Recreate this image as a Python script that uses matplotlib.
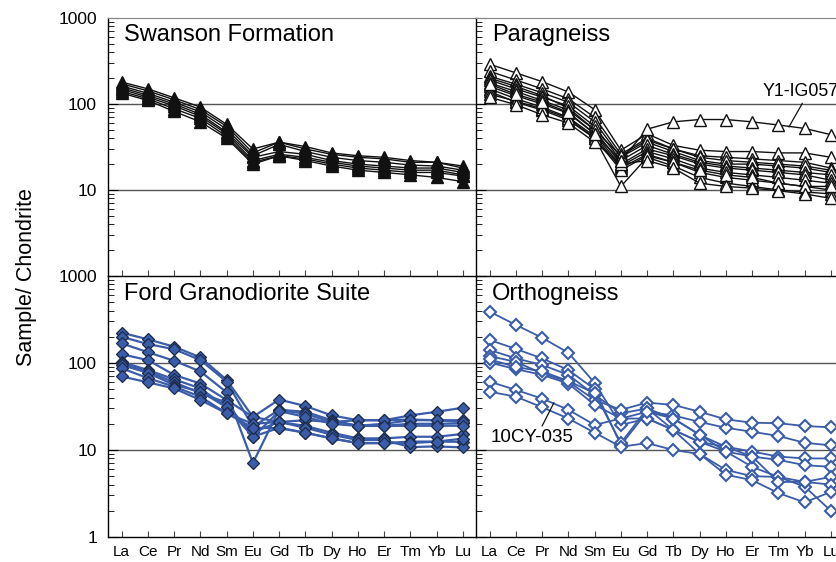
import matplotlib
matplotlib.use("Agg")
from matplotlib import pyplot as plt
from matplotlib.ticker import LogLocator, NullFormatter, FixedLocator, FixedFormatter

plt.rcParams['font.family'] = ['Liberation Sans', 'DejaVu Sans']

elements = ['La', 'Ce', 'Pr', 'Nd', 'Sm', 'Eu', 'Gd', 'Tb', 'Dy', 'Ho', 'Er', 'Tm', 'Yb', 'Lu']

# Swanson Formation (sample/chondrite)
swanson = [
    [180, 150, 118, 92, 58, 30, 36, 32, 27, 25, 24, 22, 21, 19],
    [172, 142, 112, 86, 55, 27, 36, 30, 26, 24, 23, 21, 21, 18],
    [162, 133, 105, 81, 51, 25, 34, 28, 24, 22, 21, 19.5, 19, 17],
    [155, 126, 100, 76, 47, 24, 28, 26, 22, 20, 19, 18, 18, 16],
    [148, 120, 95, 72, 45, 22, 26, 24, 21, 19, 18, 17, 17, 15],
    [140, 115, 88, 68, 42, 21, 25, 23, 20, 18, 17, 16, 16, 14.5],
    [134, 110, 82, 62, 40, 20, 25, 22, 19, 17, 16, 15, 14, 12.5],
]

# Paragneiss
paragneiss = [
    [290, 230, 182, 138, 86, 29, 45, 33, 29, 28, 28, 27, 27, 24],
    [240, 190, 150, 115, 70, 26, 40, 30, 25, 24, 23, 22, 21, 18],
    [210, 170, 135, 105, 62, 24, 36, 28, 22, 20, 20, 19, 18, 16],
    [200, 160, 125, 90, 50, 25, 38, 30, 24, 22, 21, 20, 19, 17],
    [190, 150, 120, 95, 55, 22, 33, 26, 21, 19, 18, 17, 16, 15],
    [175, 140, 110, 85, 50, 20, 30, 25, 20, 18, 17, 16, 15, 13],
    [160, 125, 100, 78, 45, 19, 28, 23, 18, 16, 15, 14, 13, 12],
    [150, 115, 92, 70, 42, 18, 26, 21, 16, 14, 13, 12, 11, 10],
    [140, 105, 85, 65, 40, 11, 24, 19, 14, 12, 11, 10, 9.5, 9],
    [130, 108, 88, 68, 40, 17, 25, 21, 17, 15, 14, 12, 11, 11],
    [120, 98, 75, 60, 36, 20, 22, 18, 12, 11, 10.5, 9.8, 9, 8],
]
y1_ig057 = [170, 130, 105, 80, 45, 22, 51, 62, 66, 66, 62, 57, 52, 44]

# Ford Granodiorite Suite
ford = [
    [223, 187, 154, 116, 64, 24, 38, 32, 25, 22, 22, 25, 27.5, 30.6],
    [200, 165, 144, 108, 61, 18.5, 29, 27.5, 22, 19, 20, 22, 22, 22],
    [168, 133, 106, 80, 46, 7.1, 29, 26, 21, 19, 19, 20, 20, 20.3],
    [126, 108, 73, 58, 37.6, 24, 21, 22, 21, 22, 22, 22.4, 22, 21],
    [103, 83, 65, 51, 31, 16, 21, 18.9, 15.8, 13.6, 13.6, 14.2, 14.2, 15.3],
    [100, 80, 60, 45, 35, 14, 28, 24, 20, 18.9, 18.9, 19, 19, 19],
    [95, 77, 56, 47, 31, 14.2, 18, 15.8, 13.6, 12, 12, 12.5, 12.5, 12.4],
    [87, 67, 53.5, 41, 26.4, 20, 21, 18, 15, 13, 13, 10.8, 11, 10.7],
    [70, 60, 51, 37.6, 26.4, 18, 17.8, 15.8, 13.6, 12, 12, 12, 12.5, 13.5],
]

# Orthogneiss
orthogneiss = [
    [389, 274, 195, 131, 59, 19.4, 23, 17, 12.4, 9.6, 6.4, 4.9, 3.8, 2.0],
    [184, 145, 113, 83, 50, 11.4, 27.5, 25, 21, 18, 16.2, 14.5, 12.1, 11.3],
    [141, 113, 95, 73, 43, 26.4, 30, 23, 14.9, 10.9, 9.6, 8.4, 8, 8],
    [120, 103, 76, 61, 37.6, 29, 35, 33, 27.5, 22.5, 20.6, 20.3, 18.9, 18.2],
    [101, 85, 73, 58, 33, 23, 23, 17, 12.4, 10.9, 8.4, 7.7, 6.7, 6.4],
    [110, 90, 80, 62, 45, 12, 30, 17, 9, 5.9, 5, 4.9, 4.3, 4.9],
    [61, 49, 39, 29, 19.4, 23, 27.5, 23, 15, 9.6, 8.4, 4.3, 4.3, 4.0],
    [46.8, 41, 31, 23, 15.8, 10.9, 12, 10, 9, 5.2, 4.5, 3.2, 2.5, 3.3],
]

x = list(range(len(elements)))
blue = '#3a5ca9'

fig = plt.figure(figsize=(8.37, 5.62), dpi=100)
W, H = 837, 562
x_l, x_r, pw = 108, 476, 368
y_top, y_mid, y_bot = 18, 276, 537

def make_ax(x0, ytop, ybot):
    return fig.add_axes([x0 / W, 1 - ybot / H, pw / W, (ybot - ytop) / H])

ax_sw = make_ax(x_l, y_top, y_mid)
ax_pa = make_ax(x_r, y_top, y_mid)
ax_fo = make_ax(x_l, y_mid, y_bot)
ax_or = make_ax(x_r, y_mid, y_bot)

for ax in [ax_sw, ax_pa, ax_fo, ax_or]:
    ax.set_yscale('log')
    ax.set_ylim(1, 1000)
    ax.set_xlim(-0.52, 13.5)
    for v in [10, 100]:
        ax.axhline(v, color='#555555', lw=1.0, zorder=0)
    ax.set_xticks(x)
    ax.tick_params(axis='x', direction='in', length=4, width=0.8, color='#444444')
    ax.tick_params(axis='y', which='major', direction='in', length=7, width=0.8)
    ax.tick_params(axis='y', which='minor', direction='in', length=4, width=0.6)
    ax.yaxis.set_minor_locator(LogLocator(base=10, subs=range(2, 10)))
    ax.yaxis.set_minor_formatter(NullFormatter())
    for s in ['top', 'right']:
        ax.spines[s].set_visible(False)
    for s in ['left', 'bottom']:
        ax.spines[s].set_linewidth(1.0)
    ax.set_facecolor('none')

for ax in [ax_sw, ax_pa]:
    ax.set_xticklabels([])
    ax.spines['top'].set_visible(True)
    ax.spines['top'].set_color('#888888')
for ax in [ax_fo, ax_or]:
    ax.set_xticklabels(elements, fontsize=11,
                       family=['Liberation Sans Narrow', 'Liberation Sans'])
    ax.tick_params(axis='x', pad=6)

ax_sw.yaxis.set_major_locator(FixedLocator([10, 100, 1000]))
ax_sw.yaxis.set_major_formatter(FixedFormatter(['10', '100', '1000']))
ax_fo.yaxis.set_major_locator(FixedLocator([1, 10, 100, 1000]))
ax_fo.yaxis.set_major_formatter(FixedFormatter(['1', '10', '100', '1000']))
for ax in [ax_sw, ax_fo]:
    ax.tick_params(axis='y', labelsize=12.5, pad=8)
for ax in [ax_pa, ax_or]:
    ax.yaxis.set_major_locator(FixedLocator([1, 10, 100, 1000]))
    ax.set_yticklabels([])

for row in swanson:
    ax_sw.plot(x, row, color='#111111', lw=1.0, marker='^', ms=8,
               mfc='#111111', mec='#111111')

for row in paragneiss + [y1_ig057]:
    ax_pa.plot(x, row, color='#111111', lw=1.0, marker='^', ms=9,
               mfc='white', mec='#111111', mew=1.0)

for row in ford:
    ax_fo.plot(x, row, color=blue, lw=1.6, marker='D', ms=6.3,
               mfc=blue, mec='#1c2a4a', mew=0.9)

for row in orthogneiss:
    ax_or.plot(x, row, color=blue, lw=1.3, marker='D', ms=6.3,
               mfc='white', mec=blue, mew=1.5)

title_kw = dict(fontsize=17, va='top', ha='left')
ax_sw.text(0.044, 0.975, 'Swanson Formation', transform=ax_sw.transAxes, **title_kw)
ax_pa.text(0.044, 0.975, 'Paragneiss', transform=ax_pa.transAxes, **title_kw)
ax_fo.text(0.044, 0.975, 'Ford Granodiorite Suite', transform=ax_fo.transAxes, **title_kw)
ax_or.text(0.044, 0.975, 'Orthogneiss', transform=ax_or.transAxes, **title_kw)

ax_pa.annotate('Y1-IG057', xy=(11.4, 54), xytext=(10.38, 138),
               fontsize=12.8, va='center', ha='left',
               arrowprops=dict(arrowstyle='-', color='#111111', lw=0.9,
                               shrinkA=0, shrinkB=0,
                               relpos=(0.55, 0.0)))
ax_or.annotate('10CY-035', xy=(2.45, 35), xytext=(0.05, 14),
               fontsize=13.5, va='center', ha='left',
               arrowprops=dict(arrowstyle='-', color='#111111', lw=0.9,
                               shrinkA=0, shrinkB=0,
                               relpos=(0.6, 1.0)))

fig.text(27 / W, 1 - 277 / H, 'Sample/ Chondrite', rotation=90,
         fontsize=15.5, va='center', ha='center')

fig.savefig('out.png', dpi=100)
